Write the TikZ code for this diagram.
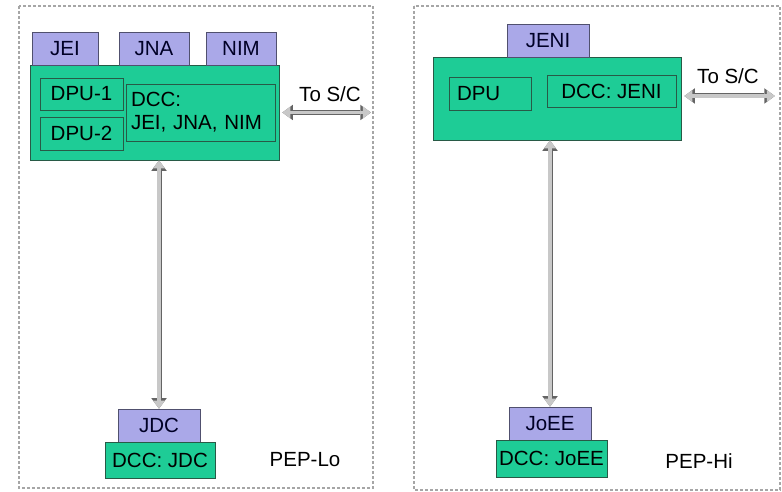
\documentclass[tikz,border=0pt]{standalone}
\usepackage{fontspec}
\setmainfont{Liberation Sans}
\usepackage{xcolor}
\usetikzlibrary{arrows.meta}
\usetikzlibrary{positioning}

\definecolor{boardgreen}{RGB}{30,204,150}
\definecolor{boardedge}{RGB}{40,90,70}
\definecolor{headlav}{RGB}{170,168,232}
\definecolor{headedge}{RGB}{80,80,110}
\definecolor{linkfill}{RGB}{200,200,200}
\definecolor{linkedge}{RGB}{100,100,100}

\tikzset{
	sensor/.style={draw=headedge,fill=headlav,text=black!85!blue,minimum height=33pt,inner sep=0pt},
	board/.style={draw=boardedge,fill=boardgreen,inner sep=0pt},
	unit/.style={draw=boardedge,thick,inner sep=0pt},
	outertip/.style={Triangle[length=10pt,width=15pt,line width=0pt]},
	innertip/.style={Triangle[length=8pt,width=12pt,line width=0pt]},
	link/.style={draw=linkfill,line width=3.2pt,{Triangle[length=8pt,width=12pt,line width=0pt]}-{Triangle[length=8pt,width=12pt,line width=0pt]},
		shorten <=1.2pt,shorten >=1.2pt,
		preaction={draw=linkedge,line width=5pt,{Triangle[length=10.5pt,width=15.5pt,line width=0pt]}-{Triangle[length=10.5pt,width=15.5pt,line width=0pt]}}},
	frame/.style={draw=gray!70,line width=1.2pt,dash pattern=on 3pt off 2pt}
}

\begin{document}
\begin{tikzpicture}[x=1pt,y=-1pt,font=\fontsize{20.5}{23}\selectfont]
	\useasboundingbox (0,0) rectangle (782,492);
		%Frames
			\draw[frame] (19,6) rectangle (373,488);
			\draw[frame] (414,6) rectangle (780,490);
		%PEP-Lo electronics box
			\path node[board,minimum width=249pt,minimum height=95pt] (mainlo) at (154.5,112.5) {};
			\path node[sensor,minimum width=66pt] (jei) at (65,48.5) {JEI};
			\path node[sensor,minimum width=70pt] (jna) at (154,48.5) {JNA};
			\path node[sensor,minimum width=70pt] (nim) at (241,48.5) {NIM};
			\path node[unit,minimum width=83pt,minimum height=32pt] (dpua) at (81.5,94) {DPU-1};
			\path node[unit,minimum width=83pt,minimum height=33pt] (dpub) at (81.5,133.5) {DPU-2};
			\path node[unit,minimum width=149pt,minimum height=57pt,align=left,text width=139pt] (dcclo) at (200.5,112.5) {DCC:\\JEI, JNA, NIM};
		%Spacecraft link
			\coordinate (sclo) at (372,112.5);
			\path node (tosclo) at (330,94) {To S/C};
			\draw[link] ([xshift=2pt]mainlo.east) -- (sclo);
		%JDC
			\path node[sensor,minimum width=82pt] (jdc) at (159,425.5) {JDC};
			\path node[board,minimum width=110pt,minimum height=36pt] (dccjdc) at (160,460) {DCC: JDC};
			\draw[link] ([yshift=1pt]jdc.north |- mainlo.south) -- ([yshift=-1pt]jdc.north);
			\path node (peplo) at (305,460) {PEP-Lo};
		%PEP-Hi electronics box
			\path node[board,minimum width=248pt,minimum height=83pt] (mainhi) at (557,98.5) {};
			\path node[sensor,minimum width=82pt] (jeni) at (548,40.5) {JENI};
			\path node[unit,minimum width=82pt,minimum height=33pt,align=left,text width=66pt] (dpu) at (490,93.5) {DPU};
			\path node[unit,minimum width=129pt,minimum height=32pt] (dccjeni) at (611.5,91) {DCC: JENI};
		%Spacecraft link
			\coordinate (schi) at (776,96);
			\path node (toschi) at (728,76) {To S/C};
			\draw[link] ([xshift=2pt]mainhi.east |- schi) -- (schi);
		%JoEE
			\path node[sensor,minimum width=82pt] (joee) at (550,423.5) {JoEE};
			\path node[board,minimum width=111pt,minimum height=37pt] (dccjoee) at (551.5,458.5) {DCC: JoEE};
			\draw[link] ([yshift=1pt]joee.north |- mainhi.south) -- ([yshift=-1pt]joee.north);
			\path node (pephi) at (699,461) {PEP-Hi};
	\end{tikzpicture}
\end{document}
